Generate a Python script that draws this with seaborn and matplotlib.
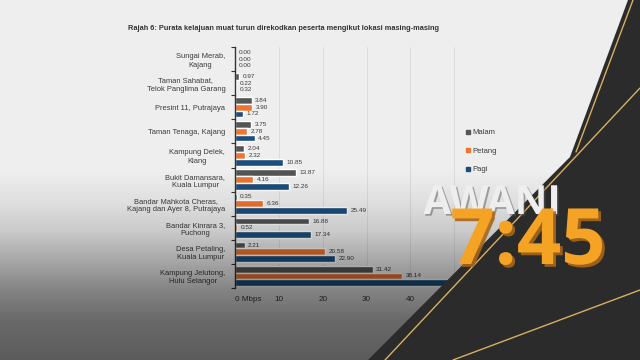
import numpy as np
import pandas as pd
import matplotlib
matplotlib.use("Agg")
import matplotlib.pyplot as plt
import matplotlib.patheffects as pe
import seaborn as sns
from matplotlib.lines import Line2D
from matplotlib.patches import Polygon

# ---------------- data ----------------
lokasi = [
    "Sungai Merab,\nKajang",
    "Taman Sahabat,\nTelok Panglima Garang",
    "Presint 11, Putrajaya",
    "Taman Tenaga, Kajang",
    "Kampung Delek,\nKlang",
    "Bukit Damansara,\nKuala Lumpur",
    "Bandar Mahkota Cheras,\nKajang dan Ayer 8, Putrajaya",
    "Bandar Kinrara 3,\nPuchong",
    "Desa Petaling,\nKuala Lumpur",
    "Kampung Jelutong,\nHulu Selangor",
]
malam = [0.00, 0.97, 3.84, 3.75, 2.04, 13.87, 0.35, 16.88, 2.21, 31.42]
petang = [0.00, 0.22, 3.90, 2.78, 2.32, 4.16, 6.36, 0.52, 20.58, 38.14]
pagi = [0.00, 0.32, 1.72, 4.45, 10.85, 12.26, 25.49, 17.34, 22.90, 51.00]
masa = ["Malam", "Petang", "Pagi"]
x_ticks = [0, 10, 20, 30, 40, 50]
x_tick_labels = ["0 Mbps", "10", "20", "30", "40", "50"]
title = "Rajah 6: Purata kelajuan muat turun direkodkan peserta mengikut lokasi masing-masing"

colors = {"Malam": "#555555", "Petang": "#ee7430", "Pagi": "#1d4e7b"}

df = pd.DataFrame({
    "Lokasi": lokasi * 3,
    "Masa": ["Malam"] * len(lokasi) + ["Petang"] * len(lokasi) + ["Pagi"] * len(lokasi),
    "Kelajuan": malam + petang + pagi,
})

sns.set_theme(style="white")
plt.rcParams["font.family"] = ["Liberation Sans", "DejaVu Sans"]

W, H = 640, 360
fig = plt.figure(figsize=(6.4, 3.6), dpi=100, facecolor="#eeeeee")

ax = fig.add_axes([235 / W, 1 - 288 / H, (463 - 235) / W, (288 - 47) / H])
ax.set_facecolor("none")
sns.barplot(data=df, y="Lokasi", x="Kelajuan", hue="Masa", hue_order=masa,
            order=lokasi, palette=colors, orient="h", width=0.84,
            ax=ax, legend=False, saturation=1, err_kws={"linewidth": 0})

# value labels (the last Pagi value is hidden behind the broadcast overlay)
for m, c in zip(masa, ax.containers):
    vals = c.datavalues
    labels = [f"{v:.2f}" if not (m == "Pagi" and i == len(vals) - 1) else ""
              for i, v in enumerate(vals)]
    ax.bar_label(c, labels=labels, padding=2.5, fontsize=4.6, color="#3a3a3a")

ax.set_xlim(0, 52)
ax.set_ylim(len(lokasi) - 0.5, -0.5)
ax.set_xticks(x_ticks)
ax.set_xticklabels(x_tick_labels, fontsize=5.9, color="#3a3a3a")
ax.get_xticklabels()[0].set_horizontalalignment("left")
ax.tick_params(axis="x", length=0, pad=6)
ax.tick_params(axis="y", which="major", length=0, pad=7, labelsize=5.4, labelcolor="#3a3a3a")
for t in ax.get_yticklabels():
    t.set_linespacing(1.3)
    t.set_multialignment("center")
ax.set_yticks(np.arange(-0.5, len(lokasi), 1.0), minor=True)
ax.tick_params(axis="y", which="minor", length=3, width=0.8, color="#333333", direction="out", left=True)
ax.set_xlabel("")
ax.set_ylabel("")
ax.grid(axis="x", color="#dcdcdc", linewidth=0.7)
ax.set_axisbelow(True)
for s in ["top", "right", "bottom"]:
    ax.spines[s].set_visible(False)
ax.spines["left"].set_color("#333333")
ax.spines["left"].set_linewidth(1.0)

fig.text(128 / W, 1 - 29 / H, title, fontsize=5.3, fontweight="bold",
         color="#333333", ha="left", va="center")

handles = [Line2D([0], [0], marker="s", linestyle="none", markersize=2.6,
                  markerfacecolor=colors[m], markeredgecolor=colors[m]) for m in masa]
fig.legend(handles, masa, loc="upper left", bbox_to_anchor=(462 / W, 1 - 126 / H),
           frameon=False, fontsize=5.5, handletextpad=0.1, labelspacing=1.45,
           handlelength=0.8, borderaxespad=0, labelcolor="#3a3a3a")

# ---------------- broadcast overlay ----------------
ov = fig.add_axes([0, 0, 1, 1], zorder=5)
ov.set_xlim(0, W)
ov.set_ylim(H, 0)
ov.axis("off")
ov.patch.set_alpha(0)

ys = np.arange(H)
alpha = np.interp(ys, [0, 170, 200, 230, 260, 290, 320, 360],
                  [0, 0, 0.06, 0.15, 0.3, 0.45, 0.56, 0.62])
grad = np.zeros((H, 1, 4))
grad[:, 0, 3] = alpha
ov.imshow(grad, extent=(0, W, H, 0), aspect="auto", zorder=1)

ov.add_patch(Polygon([(628, 0), (640, 0), (640, 360), (368, 360), (570, 157)],
                     closed=True, facecolor="#2b2b2b", edgecolor="none", zorder=3))
gold = "#d8b060"
ov.plot([633, 576], [0, 152], color=gold, lw=1.0, zorder=4)
ov.plot([640, 385], [88, 360], color=gold, lw=1.0, zorder=4)
ov.plot([640, 453], [290, 360], color=gold, lw=1.0, zorder=4)

ov.text(492, 214, "AWANI", fontsize=29, fontweight="bold", color="#eeeeee",
        family=["Open Sans", "DejaVu Sans"], ha="center", va="baseline", zorder=6,
        path_effects=[pe.withSimplePatchShadow(offset=(1.2, -1.2), shadow_rgbFace="#555555", alpha=0.5)])
ov.text(528, 264, "7:45", fontsize=56, fontweight="bold", color="#f4a324",
        family=["Open Sans", "DejaVu Sans"], ha="center", va="baseline", zorder=7,
        path_effects=[pe.withSimplePatchShadow(offset=(2, -2), shadow_rgbFace="#a8661a", alpha=0.9)])

fig.savefig("out.png", dpi=100, facecolor=fig.get_facecolor())
